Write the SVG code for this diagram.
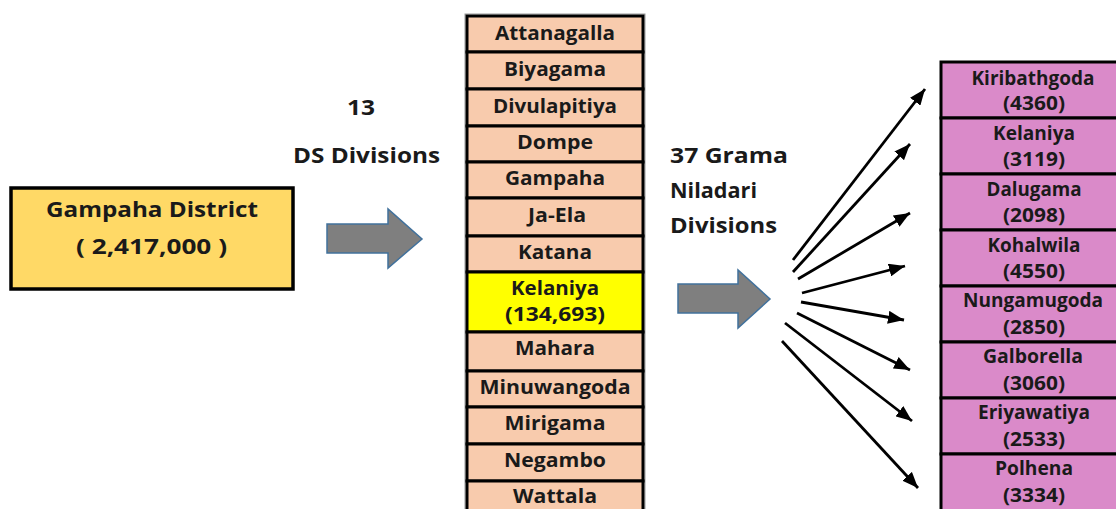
<svg xmlns="http://www.w3.org/2000/svg" width="1116" height="509" viewBox="0 0 1116 509">
<style>
text{font-family:"Open Sans","Liberation Sans",sans-serif;font-weight:700;fill:#1a1a1a;text-anchor:middle}
.lbl{font-size:21px}
.ds{font-size:20px}
.gn{font-size:19px}
.cell{fill:#F8CBAD;stroke:#000;stroke-width:3}
.hl{fill:#FFFF00;stroke:#000;stroke-width:3}
.pk{fill:#DA8AC9;stroke:#000;stroke-width:3}
.blk{fill:#7F7F7F;stroke:#41719C;stroke-width:1.5}
.con{stroke:#000;stroke-width:2.8;fill:none;marker-end:url(#ah)}
</style>
<defs>
<marker id="ah" markerUnits="userSpaceOnUse" markerWidth="17" markerHeight="13" refX="16" refY="6.5" orient="auto" viewBox="0 0 17 13">
<path d="M0,0 L16,6.5 L0,13 z" fill="#000"/>
</marker>
</defs>
<rect width="1116" height="509" fill="#fff"/>

<g id="gampaha-district">
<rect x="11" y="188" width="282" height="101" fill="#FFD966" stroke="#000" stroke-width="3.5"/>
<text class="lbl" x="152" y="217" textLength="212" lengthAdjust="spacingAndGlyphs">Gampaha District</text>
<text class="lbl" x="151.5" y="254" textLength="151" lengthAdjust="spacingAndGlyphs">( 2,417,000 )</text>
</g>

<g id="label-ds">
<text class="lbl" x="361" y="115" textLength="28" lengthAdjust="spacingAndGlyphs">13</text>
<text class="lbl" x="366.5" y="163" textLength="147" lengthAdjust="spacingAndGlyphs">DS Divisions</text>
</g>

<g id="label-gn">
<text class="lbl" x="670" y="163" style="text-anchor:start" textLength="118" lengthAdjust="spacingAndGlyphs">37 Grama</text>
<text class="lbl" x="670" y="198" style="text-anchor:start" textLength="87" lengthAdjust="spacingAndGlyphs">Niladari</text>
<text class="lbl" x="670" y="233" style="text-anchor:start" textLength="107" lengthAdjust="spacingAndGlyphs">Divisions</text>
</g>

<g id="ds-divisions">
<rect x="465" y="14" width="180" height="500" fill="none" stroke="#999" stroke-width="1"/>
<g id="ds-attanagalla"><rect class="cell" x="467" y="16" width="176" height="36"/><text class="ds" x="555" y="40" textLength="120" lengthAdjust="spacingAndGlyphs">Attanagalla</text></g>
<g id="ds-biyagama"><rect class="cell" x="467" y="52" width="176" height="37"/><text class="ds" x="555" y="76" textLength="102" lengthAdjust="spacingAndGlyphs">Biyagama</text></g>
<g id="ds-divulapitiya"><rect class="cell" x="467" y="89" width="176" height="37"/><text class="ds" x="555" y="113" textLength="124" lengthAdjust="spacingAndGlyphs">Divulapitiya</text></g>
<g id="ds-dompe"><rect class="cell" x="467" y="126" width="176" height="36"/><text class="ds" x="555" y="149" textLength="76" lengthAdjust="spacingAndGlyphs">Dompe</text></g>
<g id="ds-gampaha"><rect class="cell" x="467" y="162" width="176" height="36"/><text class="ds" x="555" y="185" textLength="100" lengthAdjust="spacingAndGlyphs">Gampaha</text></g>
<g id="ds-ja-ela"><rect class="cell" x="467" y="198" width="176" height="38"/><text class="ds" x="557" y="222" textLength="58" lengthAdjust="spacingAndGlyphs">Ja-Ela</text></g>
<g id="ds-katana"><rect class="cell" x="467" y="236" width="176" height="36"/><text class="ds" x="555" y="259" textLength="74" lengthAdjust="spacingAndGlyphs">Katana</text></g>
<g id="ds-kelaniya"><rect class="hl" x="467" y="272" width="176" height="60"/><text class="ds" x="555" y="295" textLength="88" lengthAdjust="spacingAndGlyphs">Kelaniya</text><text class="ds" x="555" y="321" textLength="100" lengthAdjust="spacingAndGlyphs">(134,693)</text></g>
<g id="ds-mahara"><rect class="cell" x="467" y="332" width="176" height="39"/><text class="ds" x="555" y="355" textLength="80" lengthAdjust="spacingAndGlyphs">Mahara</text></g>
<g id="ds-minuwangoda"><rect class="cell" x="467" y="371" width="176" height="36"/><text class="ds" x="555" y="394" textLength="151" lengthAdjust="spacingAndGlyphs">Minuwangoda</text></g>
<g id="ds-mirigama"><rect class="cell" x="467" y="407" width="176" height="37"/><text class="ds" x="555" y="430" textLength="101" lengthAdjust="spacingAndGlyphs">Mirigama</text></g>
<g id="ds-negambo"><rect class="cell" x="467" y="444" width="176" height="37"/><text class="ds" x="555" y="467" textLength="102" lengthAdjust="spacingAndGlyphs">Negambo</text></g>
<g id="ds-wattala"><rect class="cell" x="467" y="481" width="176" height="40"/><text class="ds" x="555" y="503" textLength="84" lengthAdjust="spacingAndGlyphs">Wattala</text></g>
</g>

<g id="gn-divisions">
<g id="gn-kiribathgoda"><rect class="pk" x="941" y="62" width="180" height="56"/><text class="gn" x="1033" y="85" textLength="123" lengthAdjust="spacingAndGlyphs">Kiribathgoda</text><text class="gn" x="1034" y="110" textLength="62" lengthAdjust="spacingAndGlyphs">(4360)</text></g>
<g id="gn-kelaniya"><rect class="pk" x="941" y="118" width="180" height="56"/><text class="gn" x="1034" y="140" textLength="82" lengthAdjust="spacingAndGlyphs">Kelaniya</text><text class="gn" x="1034" y="166" textLength="62" lengthAdjust="spacingAndGlyphs">(3119)</text></g>
<g id="gn-dalugama"><rect class="pk" x="941" y="174" width="180" height="56"/><text class="gn" x="1034" y="196" textLength="95" lengthAdjust="spacingAndGlyphs">Dalugama</text><text class="gn" x="1034" y="222" textLength="62" lengthAdjust="spacingAndGlyphs">(2098)</text></g>
<g id="gn-kohalwila"><rect class="pk" x="941" y="230" width="180" height="56"/><text class="gn" x="1034" y="252" textLength="93" lengthAdjust="spacingAndGlyphs">Kohalwila</text><text class="gn" x="1034" y="278" textLength="62" lengthAdjust="spacingAndGlyphs">(4550)</text></g>
<g id="gn-nungamugoda"><rect class="pk" x="941" y="286" width="180" height="56"/><text class="gn" x="1033" y="307" textLength="140" lengthAdjust="spacingAndGlyphs">Nungamugoda</text><text class="gn" x="1034" y="334" textLength="62" lengthAdjust="spacingAndGlyphs">(2850)</text></g>
<g id="gn-galborella"><rect class="pk" x="941" y="342" width="180" height="56"/><text class="gn" x="1033" y="363" textLength="100" lengthAdjust="spacingAndGlyphs">Galborella</text><text class="gn" x="1034" y="390" textLength="62" lengthAdjust="spacingAndGlyphs">(3060)</text></g>
<g id="gn-eriyawatiya"><rect class="pk" x="941" y="398" width="180" height="56"/><text class="gn" x="1034" y="419" textLength="112" lengthAdjust="spacingAndGlyphs">Eriyawatiya</text><text class="gn" x="1034" y="446" textLength="62" lengthAdjust="spacingAndGlyphs">(2533)</text></g>
<g id="gn-polhena"><rect class="pk" x="941" y="454" width="180" height="60"/><text class="gn" x="1034" y="475" textLength="78" lengthAdjust="spacingAndGlyphs">Polhena</text><text class="gn" x="1034" y="502" textLength="62" lengthAdjust="spacingAndGlyphs">(3334)</text></g>
</g>

<g id="connectors">
<polygon class="blk" points="327,224 388,224 388,209 422,239 388,268 388,253 327,253"/>
<polygon class="blk" points="678,284 738,284 738,270 770,299 738,328 738,313 678,313"/>
<line class="con" x1="793" y1="260" x2="925" y2="89"/>
<line class="con" x1="793" y1="272" x2="910" y2="144"/>
<line class="con" x1="798" y1="279" x2="910" y2="213"/>
<line class="con" x1="802" y1="293" x2="905" y2="266"/>
<line class="con" x1="801" y1="302" x2="904" y2="320"/>
<line class="con" x1="797" y1="313" x2="910" y2="370"/>
<line class="con" x1="785" y1="323" x2="912" y2="421"/>
<line class="con" x1="782" y1="341" x2="918" y2="488"/>
</g>
</svg>
